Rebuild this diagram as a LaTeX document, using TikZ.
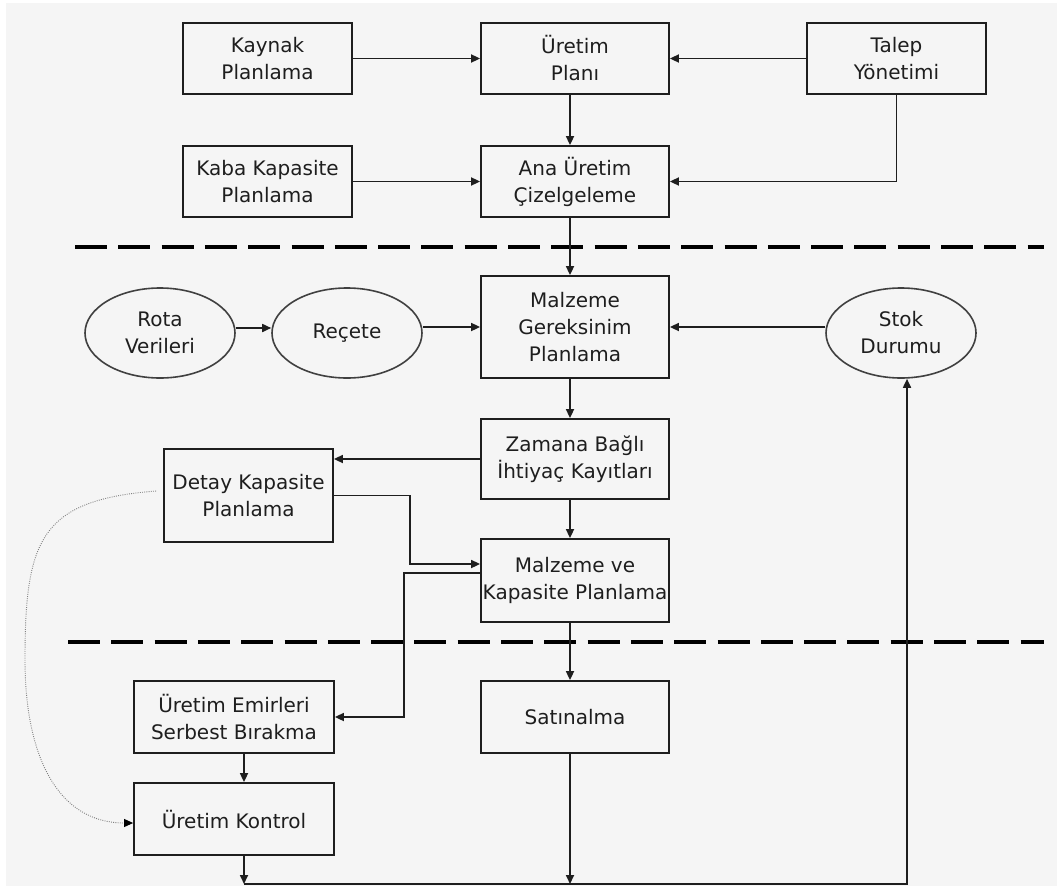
\documentclass[tikz,border=0pt]{standalone}
\usepackage{fontspec}
\setmainfont{DejaVu Sans}
\usetikzlibrary{arrows.meta,shapes.geometric}
\definecolor{bg}{HTML}{F5F5F5}
\definecolor{ink}{HTML}{1E1E1E}
\begin{document}
\begin{tikzpicture}[x=1pt,y=-1pt,
  lbl/.style={align=center,inner sep=0pt,font=\fontsize{20}{27}\selectfont,text=ink},
  box/.style={lbl,draw=ink,line width=1.8pt,rectangle},
  oval/.style={lbl,draw=ink!85,line width=1.6pt,ellipse,minimum width=150pt,minimum height=90pt},
  conn/.style={draw=ink,line width=1.7pt,-{Triangle[length=9pt,width=8pt]}},
  sep/.style={draw=black,line width=4.5pt,dash pattern=on 32pt off 11.3pt},
  dots/.style={draw=gray,line width=0.9pt,dash pattern=on 0.9pt off 1.3pt,-{Triangle[length=9pt,width=8pt,black]}}]
\useasboundingbox (0,0) rectangle (1057,886);
\fill[white] (0,0) rectangle (1057,886);
\fill[bg] (6,3) rectangle (1057,886);

% top section
\node[box,minimum width=169pt,minimum height=71pt] (kaynak) at (267.5,58.5) {Kaynak\\Planlama};
\node[box,minimum width=188pt,minimum height=71pt] (uplan) at (575,58.5) {Üretim\\Planı};
\node[box,minimum width=179pt,minimum height=71pt] (talep) at (896.5,58.5) {Talep\\Yönetimi};
\node[box,minimum width=169pt,minimum height=71pt] (kaba) at (267.5,181.5) {Kaba Kapasite\\Planlama};
\node[box,minimum width=188pt,minimum height=71pt] (ana) at (575,181.5) {Ana Üretim\\Çizelgeleme};

% middle section
\node[oval] (rota) at (160,333) {Rota\\Verileri};
\node[oval] (recete) at (347,333) {Reçete};
\node[oval] (stok) at (901,333) {Stok\\Durumu};
\node[box,minimum width=188pt,minimum height=102pt] (mrp) at (575,327) {Malzeme\\Gereksinim\\Planlama};
\node[box,minimum width=188pt,minimum height=80pt] (zaman) at (575,459) {Zamana Bağlı\\İhtiyaç Kayıtları};
\node[box,minimum width=169pt,minimum height=93pt] (detay) at (248.5,495.5) {Detay Kapasite\\Planlama};
\node[box,minimum width=188pt,minimum height=83pt] (mvk) at (575,580.5) {Malzeme ve\\Kapasite Planlama};

% bottom section
\node[box,minimum width=200pt,minimum height=72pt] (emir) at (234,717) {Üretim Emirleri\\Serbest Bırakma};
\node[box,minimum width=188pt,minimum height=72pt] (satin) at (575,717) {Satınalma};
\node[box,minimum width=200pt,minimum height=72pt] (kontrol) at (234,819) {Üretim Kontrol};

% separators
\coordinate (s1a) at (75,247);
\coordinate (s1b) at (1044,247);
\coordinate (s2a) at (68,642);
\coordinate (s2b) at (1044,642);
\draw[sep] (s1a) -- (s1b);
\draw[sep] (s2a) -- (s2b);

% helper coordinates
\coordinate (cx) at (570,0);
\coordinate (ex) at (244,0);
\coordinate (j1) at (410,564);
\coordinate (j2) at (404,573);
\coordinate (bl) at (244,884);
\coordinate (br) at (907,884);

% connectors
\draw[conn] (kaynak.east) -- (uplan.west);
\draw[conn] (talep.west) -- (uplan.east);
\draw[conn] (uplan.south -| cx) -- (ana.north -| cx);
\draw[conn] (kaba.east) -- (ana.west);
\draw[conn] (talep.south) |- (ana.east);
\draw[conn] (ana.south -| cx) -- (mrp.north -| cx);
\draw[conn] ([yshift=5pt]rota.east) -- ([yshift=5pt]recete.west);
\draw[conn] (mrp.west -| recete.east) -- (mrp.west);
\draw[conn] (mrp.east -| stok.west) -- (mrp.east);
\draw[conn] (mrp.south -| cx) -- (zaman.north -| cx);
\draw[conn] (zaman.west) -- (zaman.west -| detay.east);
\draw[conn] (zaman.south -| cx) -- (mvk.north -| cx);
\draw[conn] (detay.east) -| (j1) -- (j1 -| mvk.west);
\draw[conn] (j2 -| mvk.west) -- (j2) |- (emir.east);
\draw[conn] (mvk.south -| cx) -- (satin.north -| cx);
\draw[conn] (emir.south -| ex) -- (kontrol.north -| ex);
\draw[conn] (kontrol.south -| ex) -- (bl);
\draw[conn] (satin.south -| cx) -- (cx |- bl);
\draw[conn] (bl) -- (br) -- (stok.south -| br);

% dotted feedback
\draw[dots] ([xshift=-7pt,yshift=4.5pt]detay.west) .. controls (40,500) and (25,540) .. (25,660)
  .. controls (25,760) and (60,823) .. (kontrol.west |- 0,823);
\end{tikzpicture}
\end{document}
